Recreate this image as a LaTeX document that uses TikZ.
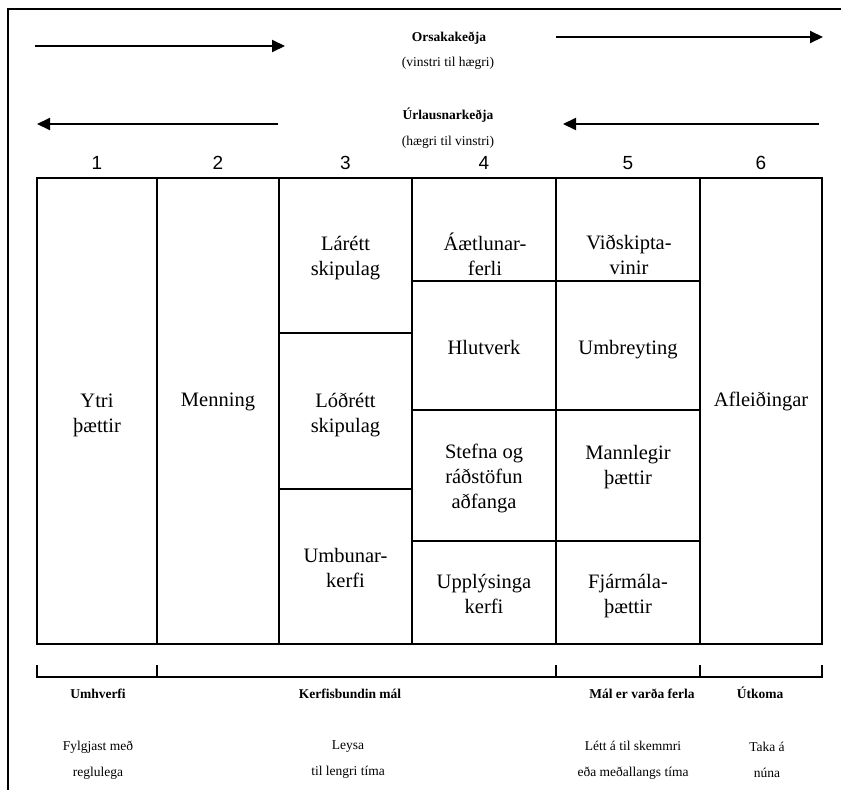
\documentclass[tikz,border=0pt]{standalone}
\usepackage{fontspec}
\setmainfont{Liberation Serif}
\newfontfamily\numfont{Liberation Sans}
\usetikzlibrary{arrows.meta}
\begin{document}
\begin{tikzpicture}[x=1pt,y=-1pt,
  cell/.style={align=center,font=\fontsize{20.5}{25}\selectfont,inner sep=0pt},
  num/.style={font=\numfont\fontsize{19}{22}\selectfont,inner sep=0pt},
  hdr/.style={font=\bfseries\fontsize{13.5}{16}\selectfont,inner sep=0pt,text height=9.5pt,text depth=3pt},
  sub/.style={font=\fontsize{13.5}{16}\selectfont,inner sep=0pt,text height=9.5pt,text depth=3pt},
  note/.style={align=center,font=\fontsize{13.5}{26}\selectfont,inner sep=0pt},
  gridline/.style={line width=2pt},
  chain/.style={line width=2pt,-{Triangle[length=13pt,width=12pt]}},
  bracket/.style={line width=2.6pt}]
\useasboundingbox (0,0) rectangle (841,790);
% outer frame
\draw[line width=2pt] (8,800) -- (8,9) -- (850,9);

% chains
\coordinate (oa1) at (35,46);  \coordinate (oa2) at (285,46);
\coordinate (ob1) at (556,37); \coordinate (ob2) at (823,37);
\coordinate (ua1) at (278,124); \coordinate (ua2) at (37,124);
\coordinate (ub1) at (819,124); \coordinate (ub2) at (563,124);
\draw[chain] (oa1) -- (oa2);
\draw[chain] (ob1) -- (ob2);
\draw[chain] (ua1) -- (ua2);
\draw[chain] (ub1) -- (ub2);
\node[hdr] (ors) at (449,38) {Orsakakeðja};
\node[sub] (orsb) at (448,63) {(vinstri til hægri)};
\node[hdr] (url) at (448,116) {Úrlausnarkeðja};
\node[sub] (urlb) at (448,142) {(hægri til vinstri)};

% column numbers
\node[num] (n1) at (97,163) {1};
\node[num] (n2) at (218,163) {2};
\node[num] (n3) at (345.5,163) {3};
\node[num] (n4) at (484,163) {4};
\node[num] (n5) at (628,163) {5};
\node[num] (n6) at (761,163) {6};

% table
\draw[gridline] (37,178) rectangle (822,644);
\foreach \x in {157,279,412,556,700} \draw[gridline] (\x,178) -- (\x,644);
\foreach \y in {333,489} \draw[gridline] (279,\y) -- (412,\y);
\foreach \y in {281,410,541} \draw[gridline] (412,\y) -- (700,\y);

% cell texts
\node[cell] (c1) at (97,415) {Ytri\\þættir};
\node[cell] (c2) at (218,402) {Menning};
\node[cell] (c3a) at (345.5,258) {Lárétt\\skipulag};
\node[cell] (c3b) at (345.5,415) {Lóðrétt\\skipulag};
\node[cell] (c3c) at (345.5,568) {Umbunar-\\kerfi};
\node[cell] (c4a) at (485,254) {Áætlunar-\\ferli};
\node[cell] (c4b) at (484,347) {Hlutverk};
\node[cell] (c4c) at (484,478) {Stefna og\\ráðstöfun\\aðfanga};
\node[cell] (c4d) at (484,594) {Upplýsinga\\kerfi};
\node[cell] (c5a) at (629,255) {Viðskipta-\\vinir};
\node[cell] (c5b) at (628,350) {Umbreyting};
\node[cell] (c5c) at (628,467) {Mannlegir\\þættir};
\node[cell] (c5d) at (628,596) {Fjármála-\\þættir};
\node[cell] (c6) at (761,401) {Afleiðingar};

% brackets
\draw[bracket] (37,665) -- (37,677) -- (822,677) -- (822,665);
\foreach \x in {157,556,700} \draw[bracket] (\x,665) -- (\x,677);

% bottom labels
\node[hdr] (l1) at (98,695) {Umhverfi};
\node[hdr] (l2) at (350,695) {Kerfisbundin mál};
\node[hdr] (l3) at (642,695) {Mál er varða ferla};
\node[hdr] (l4) at (760,695) {Útkoma};
\node[note] (m1) at (98,760) {Fylgjast með\\reglulega};
\node[note] (m2) at (348,760) {Leysa\\til lengri tíma};
\node[note] (m3) at (633,760) {Létt á til skemmri\\eða meðallangs tíma};
\node[note] (m4) at (767,760) {Taka á\\núna};
\end{tikzpicture}
\end{document}
